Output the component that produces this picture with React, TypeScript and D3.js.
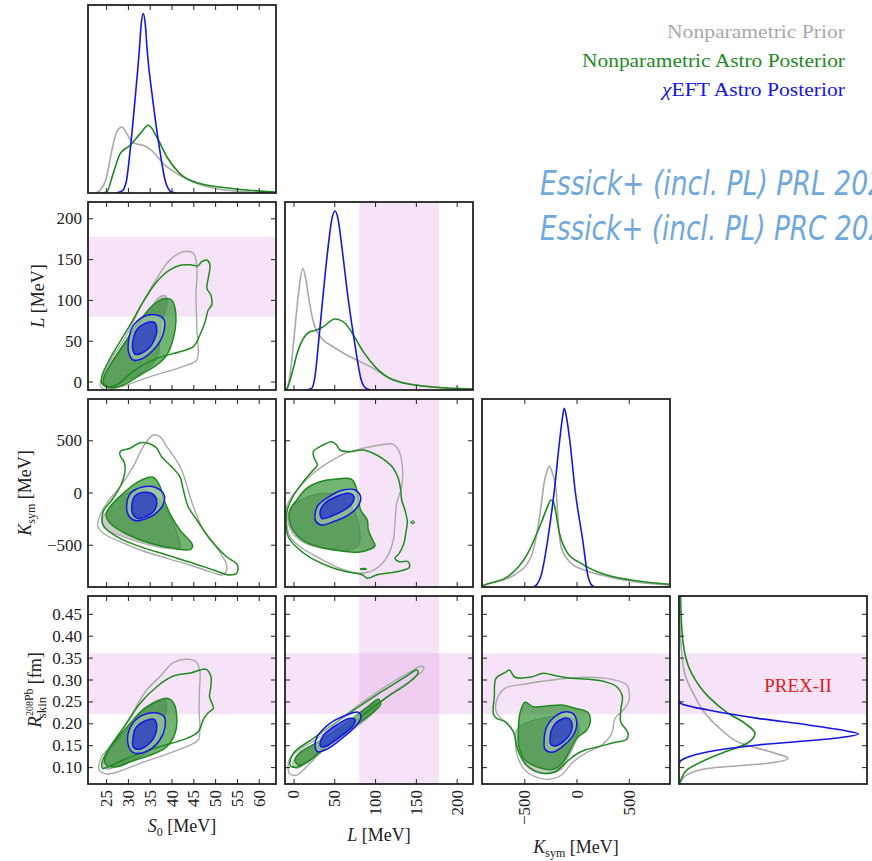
import React from "react";
import * as d3 from "d3";

type Pt = [number, number];

// ---- layout of the corner grid ----
const SIZE = 188;
const PITCH = 197;
const LEFT = 88;
const TOP = 5;

// ---- axis domains ----
const S0_DOMAIN: Pt = [20.73, 63.85];
const L_X_DOMAIN: Pt = [-11, 219.4];
const L_Y_DOMAIN: Pt = [-9.8, 220.6];
const K_X_DOMAIN: Pt = [-910, 890];
const K_Y_DOMAIN: Pt = [-900, 900];
const R_DOMAIN: Pt = [0.0626, 0.4918];
const DENSITY_DOMAIN: Pt = [0, 1];

// ---- tick values ----
const S0_TICKS = [25, 30, 35, 40, 45, 50, 55, 60];
const L_TICKS = [0, 50, 100, 150, 200];
const K_TICKS = [-500, 0, 500];
const R_TICKS = [0.1, 0.15, 0.2, 0.25, 0.3, 0.35, 0.4, 0.45];

// ---- PREX-II inferred ranges ----
const L_BAND: Pt = [80, 178];
const R_BAND: Pt = [0.222, 0.361];

const SERIES = ["Nonparametric Prior", "Nonparametric Astro Posterior", "EFT Astro Posterior"];
const SERIES_WIDTHS = [178, 263, 183];
const CITATIONS = ["Essick+ (incl. PL) PRL 2021", "Essick+ (incl. PL) PRC 2021"];

// ---- 1D marginals: [value, relative density] ----
const S0_PRIOR: Pt[] = [[22.5,0],[23.5,0.014],[25.0,0.085],[26.2,0.227],[27.3,0.324],[28.5,0.351],[29.6,0.316],[30.8,0.272],[32.0,0.26],[33.4,0.254],[35.7,0.218],[38.0,0.156],[41.1,0.103],[44.9,0.059],[50.3,0.023],[57.9,0.005],[63.85,0.001]];
const S0_ASTRO: Pt[] = [[24.0,0],[25.0,0.005],[26.5,0.103],[28.1,0.209],[30.4,0.254],[32.7,0.316],[34.6,0.36],[36.5,0.298],[38.8,0.193],[41.8,0.103],[46.4,0.05],[54.1,0.023],[63.85,0.005]];
const S0_CHI: Pt[] = [[27.0,0],[28.5,0.01],[29.5,0.06],[30.4,0.227],[31.5,0.493],[32.5,0.759],[32.9,0.89],[33.4,0.954],[33.9,0.89],[34.3,0.759],[35.6,0.493],[37.2,0.227],[38.5,0.06],[39.9,0.005],[41,0]];

const L_PRIOR: Pt[] = [[-11,0],[-9,0.005],[-4.9,0.08],[-1.6,0.204],[1.2,0.328],[5.3,0.505],[10.7,0.647],[14.7,0.585],[17.5,0.505],[23.7,0.363],[33.9,0.275],[48.2,0.23],[64.5,0.186],[80.9,0.151],[97.2,0.115],[113.6,0.071],[138,0.036],[166.7,0.018],[219.4,0.005]];
const L_ASTRO: Pt[] = [[-11,0],[-9,0.005],[-0.8,0.115],[3.3,0.186],[9.4,0.257],[19.6,0.31],[27.8,0.319],[35.9,0.337],[50.2,0.378],[62.5,0.355],[72.7,0.293],[84.9,0.204],[101.3,0.115],[121.7,0.053],[154.4,0.023],[219.4,0.005]];
const L_CHI: Pt[] = [[15,0],[22,0.01],[26,0.08],[29.8,0.239],[35.1,0.479],[42.1,0.771],[46.5,0.91],[50.2,0.952],[54,0.91],[58.4,0.771],[66.6,0.479],[74.8,0.239],[82,0.06],[88,0.01],[95,0]];

const K_PRIOR: Pt[] = [[-910,0.005],[-888,0.01],[-600,0.064],[-440,0.161],[-345,0.427],[-316,0.551],[-285,0.62],[-265,0.644],[-245,0.62],[-201,0.516],[-179,0.34],[-153,0.214],[-57,0.126],[70,0.09],[294,0.055],[549,0.028],[890,0.01]];
const K_ASTRO: Pt[] = [[-910,0.005],[-888,0.01],[-664,0.055],[-472,0.179],[-345,0.339],[-280,0.43],[-249,0.463],[-225,0.45],[-169,0.286],[-89,0.179],[38,0.126],[230,0.073],[517,0.037],[890,0.015]];
const K_CHI: Pt[] = [[-420,0],[-390,0.01],[-340,0.07],[-281,0.25],[-217,0.516],[-166,0.782],[-140,0.9],[-122,0.951],[-100,0.9],[-70,0.782],[-19,0.516],[54,0.25],[100,0.07],[140,0.01],[170,0]];

const R_PRIOR: Pt[] = [[0.0626,0.003],[0.068,0.01],[0.083,0.04],[0.0984,0.156],[0.1098,0.475],[0.1212,0.58],[0.133,0.51],[0.155,0.333],[0.1858,0.227],[0.224,0.138],[0.262,0.085],[0.315,0.03],[0.4,0.008],[0.4918,0.003]];
const R_ASTRO: Pt[] = [[0.0626,0.003],[0.072,0.01],[0.0945,0.041],[0.1135,0.121],[0.133,0.227],[0.155,0.36],[0.178,0.404],[0.201,0.351],[0.224,0.262],[0.262,0.156],[0.315,0.067],[0.391,0.02],[0.4918,0.008]];
const R_CHI: Pt[] = [[0.105,0],[0.1135,0.005],[0.1212,0.032],[0.1363,0.156],[0.1516,0.42],[0.1669,0.83],[0.1767,0.954],[0.1858,0.865],[0.1973,0.688],[0.2125,0.42],[0.2315,0.156],[0.2468,0.01],[0.255,0]];

// ---- 2D credible regions (90% and 50%) ----
const S0_L_PRIOR_90: Pt[] = [[23.5,-3.7],[25.8,24.9],[29.6,57.6],[33.4,98.4],[36.5,127.1],[39.5,149.5],[42.6,159.7],[44.9,157.7],[45.7,139.3],[45.5,106.6],[45.7,65.8],[45.7,27],[43.4,20.8],[35,6.5],[27.3,-7],[24.2,-8.5]];
const S0_L_PRIOR_50: Pt[] = [[24.2,-3.7],[25.0,12.6],[28.1,37.1],[31.9,65.8],[35.0,90.3],[37.2,104.5],[38.6,105.4],[38.8,94.4],[37.6,73.9],[37.1,45.3],[36.5,29],[33.4,12.6],[28.8,0.4],[25.8,-7]];
const S0_L_ASTRO_90: Pt[] = [[23.9,6.5],[25.8,29],[30.4,69.9],[33.4,98.4],[36.5,122.9],[39.5,137.3],[42.2,143.4],[44.5,143.4],[46.0,142.5],[46.8,147.4],[48.0,149.5],[48.7,143.4],[48.3,127.1],[48.0,114.8],[48.9,106.6],[49.1,94.4],[48.3,88.2],[47.6,73.9],[46.4,57.6],[44.9,43.3],[41.8,37.1],[36.5,29],[32.7,18.8],[29.6,6.5],[27.3,-3.7],[25.0,-5.8],[23.9,-1.6]];
const S0_L_ASTRO_50: Pt[] = [[24.2,2.5],[25.8,20.8],[28.8,45.3],[32.7,76],[35.7,94.4],[38.0,101.7],[39.9,100.5],[40.7,90.3],[40.9,73.9],[40.3,53.6],[38.8,33.1],[36.5,20.8],[32.7,8.6],[29.6,-1.6],[26.5,-7],[24.6,-4.5]];
const S0_L_CHI_90: Pt[] = [[30.0,49.4],[31.0,67.8],[33.4,80],[36.5,82.1],[38.2,76],[38.2,63.7],[37.2,49.4],[35.3,37.1],[33.0,28.2],[31.1,27],[30.1,35.2]];
const S0_L_CHI_50: Pt[] = [[31.0,49.4],[31.9,63.7],[33.8,71.9],[35.9,73.2],[36.5,65.8],[36.1,53.6],[35.0,43.3],[33.0,35.2],[31.5,34.3],[31.0,40.4]];

const S0_K_PRIOR_90: Pt[] = [[23.1,-258.5],[25.0,-98.6],[28.1,60.3],[31.1,251.8],[33.4,443.3],[35.7,555.3],[37.2,539.1],[38.8,443.3],[40.7,332.2],[42.2,220.2],[43.7,28.7],[44.9,-131.2],[47.2,-354.3],[49.5,-481.6],[51.4,-593.6],[52.5,-689.4],[52.4,-753.5],[51.4,-785.1],[48.7,-753.5],[44.1,-689.4],[38.8,-625.2],[32.7,-545.8],[28.1,-466.3],[24.2,-385.9],[23.0,-322.7]];
const S0_K_PRIOR_50: Pt[] = [[23.9,-274.8],[25.8,-131.2],[29.6,-2.9],[33.4,28.7],[37.2,-67],[39.5,-226.9],[41.4,-418.4],[41.8,-529.5],[38.8,-529.5],[33.4,-481.6],[28.8,-418.4],[25.0,-354.3]];
const S0_K_ASTRO_90: Pt[] = [[28.1,395.4],[30.4,428],[32.7,481.6],[34.6,475.9],[36.5,428],[37.6,347.6],[39.5,268.1],[41.8,156.1],[42.6,28.7],[43.7,-131.2],[45.7,-258.5],[47.2,-354.3],[49.5,-481.6],[52.5,-609.9],[55.0,-689.4],[54.8,-768.9],[53.3,-785.1],[49.5,-737.3],[44.9,-673.1],[38.8,-593.6],[32.7,-513.8],[27.3,-418.4],[24.2,-306.4],[24.2,-179],[26.2,-67],[28.1,60.3],[29.2,203.9],[29.0,299.7],[28.2,347.6]];
const S0_K_ASTRO_50: Pt[] = [[25.8,-131.2],[28.8,-2.9],[32.7,117.8],[35.6,150.3],[37.1,76.6],[38.2,-67],[39.5,-194.4],[41.8,-354.3],[44.7,-497.9],[44.3,-539.1],[40.3,-529.5],[35.0,-481.6],[29.6,-392.6],[25.8,-290.1],[24.9,-210.6]];
const S0_K_CHI_90: Pt[] = [[29.6,-114.9],[30.5,-2.9],[33.0,54.6],[36.1,54.6],[38.2,-19.1],[37.9,-114.9],[36.3,-194.4],[34.2,-242.3],[31.7,-265.3],[30.1,-220.2]];
const S0_K_CHI_50: Pt[] = [[30.8,-114.9],[31.5,-28.7],[33.6,6.7],[35.7,-12.4],[36.5,-83.3],[35.9,-169.5],[34.2,-220.2],[32.3,-246.1],[31.0,-201.1]];

const L_K_PRIOR_90: Pt[] = [[-8.9,-131.2],[-2.8,-35.4],[7.4,60.3],[23.7,188.6],[44.1,299.7],[64.6,385.9],[84.9,428],[105.4,459.6],[121.7,466.3],[129.0,395.4],[133.2,220.2],[132.0,60.3],[125.9,-98.6],[123.8,-290.1],[121.7,-450],[114.3,-609.9],[101.3,-721],[80.9,-768.9],[56.4,-721],[27.8,-609.9],[7.4,-514],[-4.9,-418.4],[-8.9,-290.1]];
const L_K_PRIOR_50: Pt[] = [[-7.0,-194.4],[-0.9,-114.9],[15.6,-41.2],[35.9,-2.9],[56.4,-28.7],[68.6,-114.9],[76.8,-226.9],[80.9,-385.9],[78.8,-507.5],[64.6,-552.5],[40.1,-536.2],[15.6,-488.3],[-0.9,-392.6],[-7.0,-290.1]];
const L_K_ASTRO_90: Pt[] = [[23.7,395.4],[35.9,459.6],[46.2,491.2],[52.3,459.6],[56.4,411.7],[68.6,395.4],[84.9,411.7],[101.3,363.8],[113.6,299.7],[121.7,236.5],[127.8,140.7],[130.8,28.7],[132.0,-67],[136.0,-162.8],[138.9,-274.8],[137.3,-370.5],[134.8,-481.6],[129.0,-577.4],[123.8,-625.2],[129.0,-657.8],[140.1,-657.8],[141.3,-711.4],[129.9,-746.8],[113.6,-768.9],[101.3,-785.1],[89.8,-816.7],[84.2,-785.1],[64.6,-753.5],[44.1,-705.6],[19.6,-615.7],[3.3,-519.9],[-7.0,-418.4],[-9.8,-290.1],[-8.2,-162.8],[-0.9,-28.7],[11.4,108.2],[21.7,203.9],[28.6,268.1],[24.9,332.2]];
const L_K_ASTRO_50: Pt[] = [[-4.9,-162.8],[3.3,-67],[15.6,45],[31.9,108.2],[48.2,131.2],[70.7,131.2],[76.0,60.3],[78.8,-35.4],[81.7,-162.8],[89.8,-258.5],[91.1,-354.3],[96.4,-450],[99.3,-507.5],[93.1,-539.1],[78.8,-567.8],[56.4,-552.5],[31.9,-519.9],[11.4,-456.7],[-0.9,-360.7],[-5.8,-258.5]];
const L_K_CHI_90: Pt[] = [[25.7,-210.6],[29.8,-114.9],[44.1,-28.7],[60.4,28.7],[74.8,28.7],[81.7,-41.2],[77.6,-136.9],[64.6,-220.2],[48.2,-274.8],[33.9,-306.4],[26.6,-268.1]];
const L_K_CHI_50: Pt[] = [[31.9,-194.4],[36.8,-105.3],[51.5,-35.4],[66.5,-2.9],[73.5,-35.4],[70.7,-105.3],[60.4,-169.5],[46.2,-220.2],[34.7,-246.1]];
const L_K_ASTRO_ISLANDS: Pt[][] = [
  [[143.5,-280],[145.5,-267],[147.5,-280],[145.5,-293]],
  [[81.5,-727],[85,-722],[88.5,-727],[85,-732]],
];

const S0_R_PRIOR_90: Pt[] = [[23.3,0.0945],[23.9,0.125],[26.5,0.1555],[30.4,0.2162],[34.2,0.2772],[37.2,0.3075],[40.3,0.3395],[43.0,0.3473],[45.5,0.3418],[46.4,0.319],[46.3,0.2772],[46.2,0.2315],[46.4,0.1934],[46.0,0.163],[44.1,0.1516],[38.8,0.131],[32.7,0.1098],[28.1,0.0922],[25.0,0.0854]];
const S0_R_PRIOR_50: Pt[] = [[24.2,0.106],[25.8,0.1402],[29.6,0.1858],[34.2,0.2389],[37.2,0.256],[38.6,0.2527],[38.4,0.2162],[37.6,0.1858],[36.5,0.1516],[32.7,0.125],[28.1,0.106],[25.0,0.0968]];
const S0_R_ASTRO_90: Pt[] = [[23.9,0.1098],[25.8,0.1477],[29.6,0.2011],[32.7,0.2468],[36.5,0.2847],[40.3,0.3091],[44.5,0.3167],[46.4,0.3228],[47.8,0.3244],[48.9,0.3091],[48.9,0.2847],[48.6,0.2619],[49.5,0.2354],[48.3,0.2253],[47.3,0.2125],[46.0,0.182],[43.4,0.1669],[37.2,0.1477],[32.7,0.1326],[28.8,0.1174],[25.8,0.1036],[24.1,0.0984]];
const S0_R_ASTRO_50: Pt[] = [[24.6,0.125],[26.5,0.1555],[30.4,0.2011],[33.4,0.2331],[36.5,0.2505],[38.8,0.2582],[40.3,0.2482],[41.1,0.2162],[40.7,0.1783],[38.8,0.1477],[35.7,0.131],[31.1,0.1158],[27.3,0.102],[24.9,0.106]];
const S0_R_CHI_90: Pt[] = [[29.8,0.163],[30.6,0.195],[33.0,0.2185],[36.1,0.2253],[38.2,0.2162],[38.4,0.1934],[37.2,0.163],[35.3,0.1441],[32.7,0.1326],[30.8,0.1363]];
const S0_R_CHI_50: Pt[] = [[31.0,0.163],[31.7,0.1904],[33.8,0.2064],[35.9,0.2103],[36.5,0.1934],[35.9,0.1692],[34.2,0.15],[32.3,0.1418],[31.1,0.1477]];

const L_R_PRIOR_90: Pt[] = [[-7.0,0.0945],[-4.9,0.1212],[7.4,0.1418],[31.9,0.1705],[64.6,0.2224],[105.4,0.2772],[146.2,0.3228],[156.5,0.332],[159.3,0.3258],[148.3,0.3062],[113.6,0.2619],[76.8,0.2071],[44.1,0.1555],[17.5,0.106],[3.3,0.0831],[-4.9,0.0854]];
const L_R_PRIOR_50: Pt[] = [[-1.6,0.1098],[7.4,0.131],[31.9,0.1591],[64.6,0.2011],[92.3,0.2389],[101.3,0.2482],[99.3,0.2299],[68.6,0.182],[35.9,0.1386],[15.6,0.1113],[2.5,0.0984]];
const L_R_ASTRO_90: Pt[] = [[-4.9,0.106],[-0.9,0.1326],[23.7,0.1669],[64.6,0.2201],[105.4,0.2711],[138.1,0.3091],[150.4,0.3228],[152.3,0.3167],[142.2,0.2961],[113.6,0.2605],[76.8,0.2087],[44.1,0.1569],[19.6,0.1174],[5.3,0.102],[-2.8,0.102]];
const L_R_ASTRO_50: Pt[] = [[1.2,0.1174],[7.4,0.135],[31.9,0.1614],[64.6,0.2025],[93.1,0.2429],[103.3,0.2559],[106.3,0.2452],[97.2,0.2263],[64.6,0.182],[35.9,0.1425],[15.6,0.1113],[5.3,0.106]];
const L_R_CHI_90: Pt[] = [[25.7,0.1516],[28.6,0.1705],[44.1,0.2011],[64.6,0.2201],[78.8,0.2263],[82.1,0.2148],[76.8,0.1973],[56.4,0.163],[40.1,0.1418],[29.0,0.1363]];
const L_R_CHI_50: Pt[] = [[31.9,0.1555],[35.9,0.1728],[52.3,0.1973],[68.6,0.2125],[75.1,0.2087],[70.7,0.192],[54.3,0.1669],[40.1,0.1493],[33.1,0.1477]];

const K_R_PRIOR_90: Pt[] = [[-769,0.2543],[-690,0.281],[-498,0.2909],[-179,0.3016],[77,0.3062],[332,0.3016],[476,0.2886],[498,0.2543],[443,0.2315],[364,0.2125],[332,0.1783],[237,0.1516],[77,0.1326],[-51,0.1098],[-147,0.0831],[-275,0.0733],[-402,0.0792],[-514,0.0984],[-578,0.1326],[-601,0.1783],[-673,0.2011],[-769,0.224]];
const K_R_PRIOR_50: Pt[] = [[-587,0.182],[-498,0.2011],[-338,0.2125],[-179,0.2178],[-19,0.2087],[19,0.1858],[-19,0.1555],[-83,0.125],[-141,0.0984],[-242,0.087],[-402,0.0907],[-505,0.1098],[-562,0.1402]];
const K_R_ASTRO_90: Pt[] = [[-801,0.2224],[-792,0.2619],[-776,0.3039],[-690,0.3167],[-648,0.3228],[-594,0.3062],[-450,0.3062],[-323,0.3153],[-194,0.3091],[-51,0.3039],[108,0.3016],[268,0.2961],[380,0.2847],[434,0.2619],[421,0.2354],[418,0.2048],[486,0.1797],[476,0.1646],[348,0.1569],[204,0.1477],[77,0.1402],[-19,0.1288],[-115,0.1098],[-211,0.0907],[-354,0.0884],[-482,0.106],[-568,0.1402],[-610,0.182],[-690,0.2048],[-769,0.2125]];
const K_R_ASTRO_50: Pt[] = [[-562,0.1858],[-546,0.224],[-498,0.2491],[-418,0.2389],[-290,0.2406],[-147,0.2429],[-19,0.2354],[108,0.2253],[127,0.2048],[93,0.1858],[-3,0.1669],[-67,0.1402],[-131,0.1135],[-227,0.0961],[-386,0.102],[-498,0.1174],[-556,0.1477]];
const K_R_CHI_90: Pt[] = [[-316,0.1592],[-290,0.1934],[-194,0.2201],[-99,0.2276],[-26,0.2201],[-3,0.1973],[-45,0.1706],[-141,0.1477],[-242,0.1349],[-306,0.1418]];
const K_R_CHI_50: Pt[] = [[-259,0.1614],[-237,0.1897],[-163,0.2087],[-83,0.2125],[-48,0.1996],[-67,0.1767],[-131,0.1592],[-211,0.1493],[-252,0.1532]];

// ---- styling ----
const FONT = "'Liberation Serif', 'DejaVu Serif', serif";
const PRIOR_COLOR = "#a9a9a9";
const ASTRO_COLOR = "#1f8a1f";
const CHI_COLOR = "#1616e4";
const FRAME_COLOR = "#222";
const BAND_COLOR = "#dc8fe0";
const BAND_OPACITY = 0.25;
const TICK_LEN = 5;

const fmtTick = (v: number, kind: string) => {
  if (kind === "R") return v.toFixed(2);
  return v < 0 ? "\u2212" + Math.abs(v) : String(v);
};

type ContourPanel = {
  row: number; col: number;
  xDomain: Pt; yDomain: Pt; xTicks: number[]; yTicks: number[];
  prior: Pt[][]; astro: Pt[][]; chi: Pt[][];
  islands?: Pt[][];
  vBand?: Pt; hBand?: Pt;
};

const CONTOUR_PANELS: ContourPanel[] = [
  { row: 1, col: 0, xDomain: S0_DOMAIN, yDomain: L_Y_DOMAIN, xTicks: S0_TICKS, yTicks: L_TICKS,
    prior: [S0_L_PRIOR_90, S0_L_PRIOR_50], astro: [S0_L_ASTRO_90, S0_L_ASTRO_50], chi: [S0_L_CHI_90, S0_L_CHI_50], hBand: L_BAND },
  { row: 2, col: 0, xDomain: S0_DOMAIN, yDomain: K_Y_DOMAIN, xTicks: S0_TICKS, yTicks: K_TICKS,
    prior: [S0_K_PRIOR_90, S0_K_PRIOR_50], astro: [S0_K_ASTRO_90, S0_K_ASTRO_50], chi: [S0_K_CHI_90, S0_K_CHI_50] },
  { row: 2, col: 1, xDomain: L_X_DOMAIN, yDomain: K_Y_DOMAIN, xTicks: L_TICKS, yTicks: K_TICKS,
    prior: [L_K_PRIOR_90, L_K_PRIOR_50], astro: [L_K_ASTRO_90, L_K_ASTRO_50], chi: [L_K_CHI_90, L_K_CHI_50],
    islands: L_K_ASTRO_ISLANDS, vBand: L_BAND },
  { row: 3, col: 0, xDomain: S0_DOMAIN, yDomain: R_DOMAIN, xTicks: S0_TICKS, yTicks: R_TICKS,
    prior: [S0_R_PRIOR_90, S0_R_PRIOR_50], astro: [S0_R_ASTRO_90, S0_R_ASTRO_50], chi: [S0_R_CHI_90, S0_R_CHI_50], hBand: R_BAND },
  { row: 3, col: 1, xDomain: L_X_DOMAIN, yDomain: R_DOMAIN, xTicks: L_TICKS, yTicks: R_TICKS,
    prior: [L_R_PRIOR_90, L_R_PRIOR_50], astro: [L_R_ASTRO_90, L_R_ASTRO_50], chi: [L_R_CHI_90, L_R_CHI_50], vBand: L_BAND, hBand: R_BAND },
  { row: 3, col: 2, xDomain: K_X_DOMAIN, yDomain: R_DOMAIN, xTicks: K_TICKS, yTicks: R_TICKS,
    prior: [K_R_PRIOR_90, K_R_PRIOR_50], astro: [K_R_ASTRO_90, K_R_ASTRO_50], chi: [K_R_CHI_90, K_R_CHI_50], hBand: R_BAND },
];

type MarginalPanel = {
  idx: number; domain: Pt; ticks: number[]; horizontal?: boolean;
  prior: Pt[]; astro: Pt[]; chi: Pt[]; band?: Pt;
};

const MARGINAL_PANELS: MarginalPanel[] = [
  { idx: 0, domain: S0_DOMAIN, ticks: S0_TICKS, prior: S0_PRIOR, astro: S0_ASTRO, chi: S0_CHI },
  { idx: 1, domain: L_X_DOMAIN, ticks: L_TICKS, prior: L_PRIOR, astro: L_ASTRO, chi: L_CHI, band: L_BAND },
  { idx: 2, domain: K_X_DOMAIN, ticks: K_TICKS, prior: K_PRIOR, astro: K_ASTRO, chi: K_CHI },
  { idx: 3, domain: R_DOMAIN, ticks: R_TICKS, horizontal: true, prior: R_PRIOR, astro: R_ASTRO, chi: R_CHI, band: R_BAND },
];

const px = (col: number) => LEFT + col * PITCH;
const py = (row: number) => TOP + row * PITCH;

function Ticks({ x, y, xTicks, yTicks }: any) {
  return (
    <g stroke={FRAME_COLOR} strokeWidth={1}>
      {(xTicks || []).map((t: number) => (
        <g key={"x" + t}>
          <line x1={x(t)} x2={x(t)} y1={0} y2={TICK_LEN} />
          <line x1={x(t)} x2={x(t)} y1={SIZE - TICK_LEN} y2={SIZE} />
        </g>
      ))}
      {(yTicks || []).map((t: number) => (
        <g key={"y" + t}>
          <line y1={y(t)} y2={y(t)} x1={0} x2={TICK_LEN} />
          <line y1={y(t)} y2={y(t)} x1={SIZE - TICK_LEN} x2={SIZE} />
        </g>
      ))}
    </g>
  );
}

function Contours({ p }: { p: ContourPanel }) {
  const x = d3.scaleLinear().domain(p.xDomain).range([0, SIZE]);
  const y = d3.scaleLinear().domain(p.yDomain).range([SIZE, 0]);
  const path = d3.line<Pt>().x((d) => x(d[0])).y((d) => y(d[1])).curve(d3.curveCatmullRomClosed.alpha(0.5));
  const clipId = `clip-${p.row}-${p.col}`;
  return (
    <g transform={`translate(${px(p.col)},${py(p.row)})`}>
      <defs>
        <clipPath id={clipId}><rect width={SIZE} height={SIZE} /></clipPath>
      </defs>
      <g clipPath={`url(#${clipId})`}>
        {p.vBand && (
          <rect x={x(p.vBand[0])} width={x(p.vBand[1]) - x(p.vBand[0])} y={0} height={SIZE} fill={BAND_COLOR} opacity={BAND_OPACITY} />
        )}
        {p.hBand && (
          <rect y={y(p.hBand[1])} height={y(p.hBand[0]) - y(p.hBand[1])} x={0} width={SIZE} fill={BAND_COLOR} opacity={BAND_OPACITY} />
        )}
        <path d={path(p.prior[1]) || ""} fill="rgba(140,140,140,0.45)" stroke={PRIOR_COLOR} strokeWidth={1.2} />
        <path d={path(p.prior[0]) || ""} fill="none" stroke={PRIOR_COLOR} strokeWidth={1.4} />
        <path d={path(p.astro[1]) || ""} fill="rgba(20,130,20,0.6)" stroke={ASTRO_COLOR} strokeWidth={1.5} />
        <path d={path(p.astro[0]) || ""} fill="none" stroke={ASTRO_COLOR} strokeWidth={1.5} />
        {(p.islands || []).map((isl, i) => (
          <path key={i} d={path(isl) || ""} fill="none" stroke={ASTRO_COLOR} strokeWidth={1.3} />
        ))}
        <path d={path(p.chi[0]) || ""} fill="rgba(235,238,245,0.35)" stroke={CHI_COLOR} strokeWidth={1.5} />
        <path d={path(p.chi[1]) || ""} fill="rgba(30,50,200,0.75)" stroke={CHI_COLOR} strokeWidth={1.5} />
      </g>
      <Ticks x={x} y={y} xTicks={p.xTicks} yTicks={p.yTicks} />
      <rect width={SIZE} height={SIZE} fill="none" stroke={FRAME_COLOR} strokeWidth={1.8} />
    </g>
  );
}

function Marginal({ m }: { m: MarginalPanel }) {
  const v = d3.scaleLinear().domain(m.domain);
  const dens = d3.scaleLinear().domain(DENSITY_DOMAIN);
  let make: (pts: Pt[]) => string;
  if (m.horizontal) {
    v.range([SIZE, 0]);
    dens.range([0, SIZE]);
    const gen = d3.line<Pt>().x((d) => dens(d[1])).y((d) => v(d[0])).curve(d3.curveMonotoneY);
    make = (pts) => gen(pts.slice().reverse()) || "";
  } else {
    v.range([0, SIZE]);
    dens.range([SIZE, 0]);
    const gen = d3.line<Pt>().x((d) => v(d[0])).y((d) => dens(d[1])).curve(d3.curveMonotoneX);
    make = (pts) => gen(pts) || "";
  }
  const clipId = `mclip-${m.idx}`;
  return (
    <g transform={`translate(${px(m.idx)},${py(m.idx)})`}>
      <defs>
        <clipPath id={clipId}><rect width={SIZE} height={SIZE} /></clipPath>
      </defs>
      <g clipPath={`url(#${clipId})`}>
        {m.band && !m.horizontal && (
          <rect x={v(m.band[0])} width={v(m.band[1]) - v(m.band[0])} y={0} height={SIZE} fill={BAND_COLOR} opacity={BAND_OPACITY} />
        )}
        {m.band && m.horizontal && (
          <rect y={v(m.band[1])} height={v(m.band[0]) - v(m.band[1])} x={0} width={SIZE} fill={BAND_COLOR} opacity={BAND_OPACITY} />
        )}
        <path d={make(m.prior)} fill="none" stroke={PRIOR_COLOR} strokeWidth={1.6} />
        <path d={make(m.astro)} fill="none" stroke={ASTRO_COLOR} strokeWidth={1.6} />
        <path d={make(m.chi)} fill="none" stroke={CHI_COLOR} strokeWidth={1.6} />
      </g>
      {m.horizontal ? (
        <Ticks x={v} y={v} yTicks={m.ticks} />
      ) : (
        <Ticks x={v} y={v} xTicks={m.ticks} />
      )}
      {m.horizontal && (
        <text x={119} y={v(0.2885)} fill="#e02020" fontSize={19} textAnchor="middle" dominantBaseline="central">PREX-II</text>
      )}
      <rect width={SIZE} height={SIZE} fill="none" stroke={FRAME_COLOR} strokeWidth={1.8} />
    </g>
  );
}

function TickLabels() {
  const rowAxes: { row: number; domain: Pt; ticks: number[]; kind: string }[] = [
    { row: 1, domain: L_Y_DOMAIN, ticks: L_TICKS, kind: "L" },
    { row: 2, domain: K_Y_DOMAIN, ticks: K_TICKS, kind: "K" },
    { row: 3, domain: R_DOMAIN, ticks: R_TICKS, kind: "R" },
  ];
  const colAxes: { col: number; domain: Pt; ticks: number[]; kind: string }[] = [
    { col: 0, domain: S0_DOMAIN, ticks: S0_TICKS, kind: "S" },
    { col: 1, domain: L_X_DOMAIN, ticks: L_TICKS, kind: "L" },
    { col: 2, domain: K_X_DOMAIN, ticks: K_TICKS, kind: "K" },
  ];
  const bottom = py(3) + SIZE;
  return (
    <g fontSize={17} fill="#222">
      {rowAxes.map((a) => {
        const y = d3.scaleLinear().domain(a.domain).range([py(a.row) + SIZE, py(a.row)]);
        return a.ticks.map((t) => (
          <text key={a.kind + t} x={LEFT - 6} y={y(t)} textAnchor="end" dominantBaseline="central">{fmtTick(t, a.kind)}</text>
        ));
      })}
      {colAxes.map((a) => {
        const x = d3.scaleLinear().domain(a.domain).range([px(a.col), px(a.col) + SIZE]);
        return a.ticks.map((t) => (
          <text key={a.kind + t} transform={`translate(${x(t)},${bottom + 6}) rotate(-90)`} textAnchor="end" dominantBaseline="central">{fmtTick(t, a.kind)}</text>
        ));
      })}
    </g>
  );
}

function AxisTitles() {
  const fs = 18;
  return (
    <g fontSize={fs} fill="#222">
      <text x={px(0) + SIZE / 2} y={832} textAnchor="middle">
        <tspan fontStyle="italic">S</tspan><tspan fontSize={12} dy={4}>0</tspan><tspan dy={-4}> [MeV]</tspan>
      </text>
      <text x={px(1) + SIZE / 2} y={841} textAnchor="middle">
        <tspan fontStyle="italic">L</tspan><tspan> [MeV]</tspan>
      </text>
      <text x={px(2) + SIZE / 2} y={853} textAnchor="middle">
        <tspan fontStyle="italic">K</tspan><tspan fontSize={12} dy={4}>sym</tspan><tspan dy={-4}> [MeV]</tspan>
      </text>
      <text transform={`translate(44,${py(1) + SIZE / 2}) rotate(-90)`} textAnchor="middle">
        <tspan fontStyle="italic">L</tspan><tspan> [MeV]</tspan>
      </text>
      <text transform={`translate(31,${py(2) + SIZE / 2}) rotate(-90)`} textAnchor="middle">
        <tspan fontStyle="italic">K</tspan><tspan fontSize={12} dy={4}>sym</tspan><tspan dy={-4}> [MeV]</tspan>
      </text>
      <text transform={`translate(41,${py(3) + SIZE / 2}) rotate(-90)`} textAnchor="middle">
        <tspan fontStyle="italic" fontSize={19}>R</tspan>
        <tspan fontSize={10} dy={-8}>208</tspan>
        <tspan fontSize={12}>Pb</tspan>
        <tspan fontSize={13} dx={-30} dy={13}>skin</tspan>
        <tspan dx={8} dy={-5}> [fm]</tspan>
      </text>
    </g>
  );
}

function Legend() {
  const colors = [PRIOR_COLOR, ASTRO_COLOR, CHI_COLOR];
  const ys = [38, 67, 96];
  return (
    <g fontSize={18} textAnchor="end">
      {SERIES.map((s, i) => (
        <text key={s} x={845} y={ys[i]} fill={colors[i]} textLength={SERIES_WIDTHS[i]} lengthAdjust="spacingAndGlyphs">
          {i === 2 && <tspan fontStyle="italic">χ</tspan>}
          {s}
        </text>
      ))}
    </g>
  );
}

function Citations() {
  return (
    <g fill="#6fa8dc" fontSize={34} fontStyle="italic" fontFamily="'Liberation Sans Narrow', 'DejaVu Sans Condensed', 'Noto Sans', sans-serif">
      {CITATIONS.map((c, i) => (
        <text key={c} x={540} y={195 + i * 45} textLength={362} lengthAdjust="spacingAndGlyphs">{c}</text>
      ))}
    </g>
  );
}

export default function App() {
  React.useEffect(() => {
    document.body.style.margin = "0";
  }, []);
  return (
    <svg width={872} height={861} style={{ position: "absolute", left: 0, top: 0, background: "#fff" }} fontFamily={FONT}>
      <rect width={872} height={861} fill="#fff" />
      {MARGINAL_PANELS.map((m) => <Marginal key={m.idx} m={m} />)}
      {CONTOUR_PANELS.map((p) => <Contours key={`${p.row}-${p.col}`} p={p} />)}
      <TickLabels />
      <AxisTitles />
      <Legend />
      <Citations />
    </svg>
  );
}
